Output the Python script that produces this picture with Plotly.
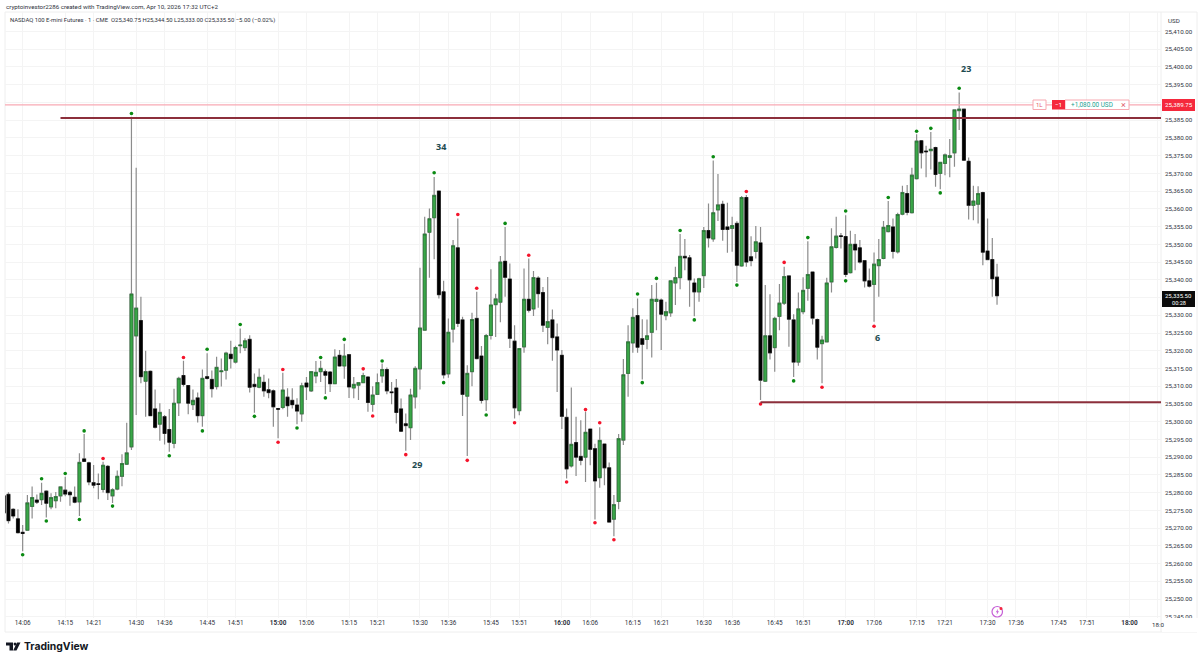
import pandas as pd
import plotly.graph_objects as go

DAY = "2026-04-10 "
first_bar = "14:02"
opens = [
25279.1,25279.5,25275.3,25272.6,25268.8,25269.4,25276.1,25277.9,25278.0,25280.4,
25276.0,25277.7,25279.1,25280.7,25280.1,25278.7,25277.4,25289.5,25288.4,25282.8,
25282.5,25280.9,25287.4,25279.1,25281.0,25284.6,25288.0,25292.9,25324.2,25328.5,
25311.4,25314.2,25303.6,25299.3,25301.4,25297.8,25293.9,25305.3,25313.0,25310.2,
25304.8,25306.7,25301.7,25312.7,25311.9,25309.9,25314.1,25314.5,25319.0,25316.8,
25321.4,25320.9,25323.2,25310.5,25309.7,25311.1,25309.0,25308.7,25303.7,25304.0,
25306.9,25306.0,25304.7,25302.2,25310.9,25308.7,25312.9,25314.1,25314.1,25314.0,
25310.7,25318.7,25315.7,25318.9,25309.5,25310.3,25311.0,25312.6,25304.9,25307.7,
25312.9,25314.7,25308.4,25309.5,25303.6,25299.4,25298.3,25307.0,25314.9,25325.8,
25353.4,25357.5,25365.0,25336.6,25313.5,25326.1,25349.0,25328.7,25307.2,25314.1,
25329.1,25318.5,25306.2,25324.3,25333.0,25333.7,25345.2,25340.2,25322.7,25303.1,
25321.1,25334.5,25331.8,25340.5,25336.4,25326.6,25328.7,25323.9,25318.7,25301.2,
25287.5,25294.1,25290.2,25290.0,25297.9,25292.4,25284.2,25293.7,25287.0,25272.5,
25277.5,25294.8,25313.6,25322.2,25329.9,25323.4,25323.2,25325.2,25333.9,25334.3,
25329.9,25330.7,25339.1,25340.6,25346.6,25346.2,25339.1,25336.6,25341.2,25353.9,
25351.5,25359.7,25361.3,25354.9,25354.5,25355.9,25343.9,25363.2,25346.5,25348.0,
25350.4,25311.4,25324.2,25320.9,25329.7,25333.4,25341.1,25328.7,25316.8,25331.0,
25337.6,25342.2,25328.8,25322.0,25322.5,25339.4,25349.1,25352.4,25352.2,25342.0,
25350.0,25349.0,25345.4,25339.7,25338.7,25344.0,25346.0,25353.6,25354.9,25347.9,
25358.5,25364.3,25358.9,25368.5,25379.2,25376.3,25376.4,25377.3,25370.0,25372.8,
25374.5,25375.8,25387.7,25388.1,25373.4,25361.0,25361.3,25364.6,25348.1,25345.7,
25340.75]
highs = [
25279.3,25280.1,25275.6,25275.3,25270.9,25279.3,25281.7,25279.5,25282.8,25280.7,
25279.8,25280.2,25281.7,25284.5,25280.5,25281.7,25291.1,25296.5,25288.7,25287.8,
25285.4,25288.7,25287.8,25281.2,25286.2,25290.8,25299.7,25386.0,25371.6,25335.2,
25320.0,25314.4,25309.1,25305.2,25301.9,25303.6,25309.3,25312.7,25317.2,25310.3,
25309.1,25308.2,25314.7,25319.3,25314.4,25318.3,25317.8,25319.7,25322.8,25321.4,
25326.3,25323.5,25324.4,25313.6,25315.0,25313.2,25312.2,25309.1,25303.7,25313.8,
25309.4,25309.4,25306.6,25311.0,25312.6,25314.3,25317.1,25317.2,25314.7,25314.3,
25320.4,25320.2,25322.0,25319.0,25312.6,25311.2,25313.8,25312.8,25310.0,25313.6,
25316.4,25315.3,25311.2,25312.0,25306.5,25302.3,25309.3,25315.6,25343.4,25357.8,
25360.1,25369.0,25365.1,25339.7,25329.1,25351.2,25357.3,25329.6,25315.9,25330.7,
25336.6,25321.3,25324.7,25343.0,25336.1,25346.7,25354.9,25344.6,25327.2,25320.6,
25343.2,25346.0,25342.5,25341.0,25338.0,25340.8,25331.6,25327.7,25320.2,25303.7,
25309.6,25301.4,25300.4,25302.8,25298.1,25293.8,25298.4,25293.8,25288.5,25279.3,
25296.5,25317.7,25327.2,25332.0,25334.7,25328.9,25328.8,25338.5,25339.2,25334.7,
25333.8,25339.9,25343.7,25352.9,25351.5,25347.0,25340.4,25340.6,25354.9,25361.5,
25373.6,25369.8,25362.3,25361.7,25357.8,25356.5,25363.6,25363.9,25352.3,25355.2,
25354.9,25338.5,25335.9,25329.6,25338.8,25343.7,25341.2,25330.3,25336.4,25340.7,
25350.9,25342.3,25329.1,25324.2,25340.6,25354.5,25357.8,25353.2,25358.2,25353.8,
25352.9,25351.2,25345.5,25343.2,25347.7,25351.5,25356.6,25362.2,25357.3,25358.9,
25366.5,25366.7,25371.6,25381.0,25379.4,25377.8,25381.7,25377.5,25373.3,25375.6,
25379.7,25388.0,25392.8,25388.3,25374.5,25366.5,25366.4,25364.8,25357.3,25351.8,
25344.5]
lows = [
25274.1,25271.3,25272.7,25268.5,25263.5,25269.3,25272.7,25276.8,25276.5,25273.0,
25275.3,25275.6,25277.4,25279.0,25276.3,25277.0,25273.4,25288.7,25282.1,25281.2,
25278.1,25280.0,25277.9,25277.1,25280.7,25281.8,25287.8,25292.0,25301.9,25310.8,
25301.4,25301.7,25298.1,25294.6,25293.6,25291.5,25292.5,25301.6,25309.9,25302.1,
25303.3,25299.8,25298.6,25311.9,25306.8,25309.1,25309.9,25311.9,25315.0,25316.4,
25319.3,25319.9,25308.2,25302.5,25309.4,25307.0,25306.6,25298.6,25295.3,25303.5,
25301.4,25303.7,25299.3,25300.0,25306.1,25308.4,25310.8,25311.2,25307.8,25308.4,
25310.6,25315.5,25312.1,25306.7,25306.6,25306.1,25310.8,25302.8,25302.8,25307.5,
25311.0,25307.7,25304.9,25299.5,25297.1,25291.8,25294.8,25303.7,25309.1,25325.8,
25340.6,25345.8,25334.7,25312.2,25312.4,25322.3,25326.7,25301.6,25290.3,25310.0,
25317.5,25305.1,25303.0,25323.2,25323.9,25328.0,25335.2,25320.8,25300.9,25301.8,
25319.4,25330.8,25329.8,25332.1,25325.3,25321.8,25317.2,25308.4,25297.9,25284.0,
25287.1,25284.7,25287.7,25283.0,25287.7,25272.4,25281.4,25282.1,25271.5,25267.7,
25275.3,25293.4,25307.0,25319.4,25319.4,25311.9,25320.4,25318.1,25325.8,25320.2,
25328.6,25329.6,25332.9,25337.3,25342.7,25332.4,25329.7,25333.8,25337.7,25349.1,
25350.7,25356.6,25351.0,25347.6,25347.9,25339.4,25343.7,25343.7,25343.8,25346.0,
25306.1,25311.2,25317.5,25314.1,25325.8,25332.9,25321.1,25312.6,25315.8,25330.3,
25334.1,25327.4,25317.5,25310.8,25322.3,25336.4,25348.8,25348.8,25340.8,25341.8,
25342.7,25344.6,25337.8,25337.8,25328.2,25335.2,25345.8,25353.3,25346.0,25347.4,
25358.2,25358.2,25358.7,25368.3,25371.4,25368.9,25371.1,25366.2,25365.5,25369.5,
25368.9,25371.9,25382.2,25373.6,25357.0,25356.8,25355.9,25344.1,25345.5,25335.2,
25333.0]
closes = [
25274.3,25272.1,25273.4,25268.7,25268.5,25277.1,25278.6,25277.3,25279.8,25277.0,
25278.6,25278.9,25281.6,25279.6,25279.4,25277.3,25288.5,25288.8,25283.0,25282.1,
25282.3,25287.7,25280.0,25280.8,25284.6,25288.2,25291.2,25336.0,25332.0,25312.7,
25314.1,25301.7,25298.4,25302.6,25296.7,25294.2,25305.2,25312.2,25310.5,25305.2,
25306.0,25301.7,25312.2,25312.2,25309.3,25315.3,25314.3,25319.3,25317.8,25320.9,
25321.6,25322.8,25309.7,25309.9,25312.5,25308.7,25308.2,25304.2,25303.5,25308.9,
25304.5,25304.8,25303.0,25310.1,25309.8,25314.1,25313.9,25315.0,25313.1,25310.7,
25318.2,25315.7,25318.5,25309.8,25310.5,25311.0,25313.0,25305.4,25307.5,25311.0,
25314.7,25308.7,25308.2,25302.6,25297.3,25298.9,25307.5,25315.0,25326.4,25352.9,
25357.2,25363.8,25335.8,25313.2,25325.2,25349.6,25327.7,25307.7,25313.6,25328.8,
25317.8,25306.0,25324.3,25332.9,25334.6,25345.0,25340.7,25323.5,25303.9,25320.6,
25334.5,25331.4,25340.6,25336.1,25327.2,25328.2,25323.7,25320.2,25301.5,25286.7,
25293.6,25290.0,25289.1,25297.0,25292.2,25283.3,25294.7,25287.0,25271.7,25276.6,
25295.2,25313.2,25322.5,25329.4,25321.0,25321.8,25324.2,25334.5,25334.5,25330.3,
25331.0,25339.7,25340.6,25346.6,25346.2,25340.0,25336.6,25340.3,25353.9,25351.8,
25358.9,25361.1,25354.2,25354.2,25355.3,25344.1,25363.2,25345.0,25345.4,25350.7,
25311.7,25324.2,25319.4,25329.1,25333.4,25340.9,25328.9,25316.8,25331.8,25337.0,
25341.5,25329.2,25321.0,25323.0,25339.1,25349.3,25352.3,25352.2,25341.5,25350.0,
25348.4,25345.0,25339.7,25338.2,25344.4,25345.7,25354.8,25355.3,25348.0,25358.4,
25364.6,25359.0,25369.5,25379.1,25375.8,25376.1,25376.8,25369.7,25373.1,25375.2,
25375.0,25387.9,25388.1,25373.7,25361.0,25362.2,25364.3,25347.8,25345.7,25340.3,
25335.5]

green_dot_times = ["14:06","14:10","14:11","14:15","14:18","14:19","14:25","14:29","14:37","14:44","14:45","14:52","14:55","15:04",
"15:09","15:10","15:14","15:22","15:33","15:35","15:44","15:48","16:16","16:17","16:20","16:25","16:28","16:32","16:37","16:49","16:52",
"17:00","17:00","17:09","17:15","17:18","17:20","17:24"]
green_dot_prices = [25262.5,25283.9,25272.0,25285.4,25272.4,25297.4,25276.2,25386.9,25290.4,25297.4,25320.4,25327.4,25301.5,25298.2,
25318.1,25306.7,25323.2,25317.1,25370.2,25311.0,25301.9,25355.9,25336.0,25311.0,25340.4,25353.9,25328.7,25374.7,25338.5,25311.5,25351.9,
25359.4,25339.7,25363.2,25381.9,25382.7,25364.5,25394.0]
red_dot_times = ["14:23","14:40","15:00","15:01","15:18","15:20","15:27","15:38","15:40","15:42","15:50","15:53",
"16:01","16:05","16:07","16:08","16:11","16:39","16:42","16:47","16:55","17:06"]
red_dot_prices = [25289.6,25318.1,25294.2,25314.7,25314.9,25301.6,25290.7,25358.4,25289.1,25337.6,25299.7,25346.9,
25283.0,25303.4,25271.5,25299.7,25266.7,25364.9,25305.0,25344.9,25309.7,25326.9]

count_labels = ["34","29","6","23"]
count_times = ["15:34:25","15:29:25","17:06:50","17:25:25"]
count_prices = [25377.7,25288.0,25323.6,25399.7]

x_tick_times = ["14:06","14:15","14:21","14:30","14:36","14:45","14:51","15:00","15:06","15:15","15:21","15:30","15:36","15:45","15:51",
"16:00","16:06","16:15","16:21","16:30","16:36","16:45","16:51","17:00","17:06","17:15","17:21","17:30","17:36","17:45","17:51","18:00","18:06"]
y_ticks = list(range(25245, 25415, 5))
y_ticks_under_tags = [25335, 25390]

position_price = 25389.75
position_line = 25389.3
last_price = 25335.5
upper_level = 25385.6
upper_level_start = "14:14"
lower_level = 25305.5
lower_level_start = "16:42"

def t(s):
    return DAY + s

times = pd.date_range(t(first_bar), periods=len(opens), freq="1min")

W, H = 1200, 661
L, R, T, B = 5, 1161, 12, 618
def px(x): return (x - L) / (R - L)
def py(y): return (B - y) / (B - T)

FONT = "Roboto"
INK = "#2f333d"

fig = go.Figure()

# wicks, then bodies on top with a darker outline
fig.add_trace(go.Candlestick(
    x=times, open=opens, high=highs, low=lows, close=closes,
    increasing=dict(line=dict(color="#8c8c8c", width=1.2), fillcolor="#8c8c8c"),
    decreasing=dict(line=dict(color="#8c8c8c", width=1.2), fillcolor="#8c8c8c"),
    whiskerwidth=0, showlegend=False, hoverinfo="skip"))
fig.add_trace(go.Candlestick(
    x=times, open=opens, close=closes,
    high=[max(a, b) for a, b in zip(opens, closes)],
    low=[min(a, b) for a, b in zip(opens, closes)],
    increasing=dict(line=dict(color="#1d6a2a", width=0.6), fillcolor="#3aa648"),
    decreasing=dict(line=dict(color="#000000", width=0.6), fillcolor="#000000"),
    whiskerwidth=0, showlegend=False))

fig.add_trace(go.Scatter(x=[t(s) for s in green_dot_times], y=green_dot_prices, mode="markers",
                         marker=dict(color="#0a8a12", size=3.6), showlegend=False))
fig.add_trace(go.Scatter(x=[t(s) for s in red_dot_times], y=red_dot_prices, mode="markers",
                         marker=dict(color="#f5142b", size=3.6), showlegend=False))

x_end = "2026-04-10 18:06:40"
x_start = "2026-04-10 14:02:16"

shapes = [
    dict(type="line", xref="x", yref="y", x0=x_start, x1=x_end, y0=position_line, y1=position_line,
         line=dict(color="#f8aab4", width=1.3)),
    dict(type="line", xref="x", yref="y", x0=t(upper_level_start), x1=x_end, y0=upper_level, y1=upper_level,
         line=dict(color="#8c2f3b", width=2)),
    dict(type="line", xref="x", yref="y", x0=t(lower_level_start), x1=x_end, y0=lower_level, y1=lower_level,
         line=dict(color="#8c2f3b", width=2)),
]

def rect(x0, y0, x1, y1, fill, line=None, layer="above", lw=1):
    shapes.append(dict(type="rect", xref="paper", yref="paper", x0=px(x0), x1=px(x1), y0=py(y1), y1=py(y0),
                       fillcolor=fill, line=dict(color=line or fill, width=lw if line else 0), layer=layer))

# clip the lowest price label at the pane edge, then pane frame
rect(1162, 618, 1200, 632, "#ffffff")
for frame in [(5, 12, 1197, 632)]:
    shapes.append(dict(type="rect", xref="paper", yref="paper", x0=px(frame[0]), x1=px(frame[2]),
                       y0=py(frame[3]), y1=py(frame[1]), line=dict(color="#eeeeee", width=1), layer="below"))
shapes.append(dict(type="line", xref="paper", yref="paper", x0=1, x1=1, y0=py(632), y1=py(12),
                   line=dict(color="#eeeeee", width=1), layer="below"))

# order pill
rect(1033, 100, 1046, 109.5, "#ffffff", "#f7a8b0")
rect(1065, 100, 1129, 109.5, "#ffffff", "#f7a8b0")
rect(1052, 100, 1065, 109.5, "#f5283c")
# position and last price tags
rect(1162, 99, 1195, 111, "#f5283c")
rect(1162, 291, 1195, 307, "#0b0b0b")

# replay icon
shapes.append(dict(type="circle", xref="paper", yref="paper", x0=px(992), x1=px(1002.5), y0=py(617), y1=py(606.5),
                   line=dict(color="#c65fd6", width=1.2), fillcolor="#ffffff"))
shapes.append(dict(type="path", xref="paper", yref="paper",
                   path=f"M {px(998)} {py(608.8)} L {px(995.8)} {py(612.3)} L {px(997.2)} {py(612.3)} L {px(996.6)} {py(615)} L {px(999)} {py(611.2)} L {px(997.6)} {py(611.2)} Z",
                   fillcolor="#c65fd6", line=dict(width=0)))
shapes.append(dict(type="circle", xref="paper", yref="paper", x0=px(999.5), x1=px(1002.5), y0=py(610), y1=py(607),
                   fillcolor="#f5283c", line=dict(width=0)))

# TradingView mark
def poly(pts, fill="#131722"):
    d = " ".join(("M" if i == 0 else "L") + f" {px(a)} {py(b)}" for i, (a, b) in enumerate(pts)) + " Z"
    shapes.append(dict(type="path", xref="paper", yref="paper", path=d, fillcolor=fill, line=dict(width=0)))
poly([(6, 642.5), (13, 642.5), (13, 650.5), (9.5, 650.5), (9.5, 645.5), (6, 645.5)])
poly([(17, 642.5), (20.5, 642.5), (16.5, 650.5), (13.2, 650.5)])
shapes.append(dict(type="circle", xref="paper", yref="paper", x0=px(13.6), x1=px(16.4), y0=py(645.6), y1=py(642.6),
                   fillcolor="#131722", line=dict(width=0)))

def note(text, x, y, size=6.2, color=INK, anchor="left", family=FONT):
    return dict(text=text, xref="paper", yref="paper", x=px(x), y=py(y), xanchor=anchor, yanchor="middle",
                showarrow=False, align=anchor, font=dict(family=family, size=size, color=color))

annotations = [
    note("cryptoinvestor2286 created with TradingView.com, Apr 10, 2026 17:32 UTC+2", 4, 7),
    note("NASDAQ 100 E-mini Futures · 1 · CME  O25,340.75 H25,344.50 L25,333.00 C25,335.50 −5.00 (−0.02%)", 7.5, 20.5, size=5.9),
    note("USD", 1166, 21),
    note("18:0", 1149.5, 625, size=6.2),
    note("1L", 1039.5, 104.8, size=6, color="#e0606e", anchor="center"),
    note("−1", 1058.5, 104.8, size=6.2, color="#ffffff", anchor="center"),
    note("+1,080.00 USD", 1091.5, 104.8, size=6.4, color="#22a08f", anchor="center"),
    note("×", 1123.5, 104.8, size=9, color="#e0606e", anchor="center"),
    note(f"{position_price:,.2f}", 1178.5, 105, size=6.2, color="#ffffff", anchor="center"),
    note(f"{last_price:,.2f}", 1178.5, 295, size=6, color="#ffffff", anchor="center"),
    note("00:28", 1178.5, 303.2, size=5.6, color="#ffffff", anchor="center"),
    note("<b>TradingView</b>", 22, 646.5, size=10.4, color="#131722", family="Inter"),
]
for lab, tm, pr in zip(count_labels, count_times, count_prices):
    annotations.append(dict(text=f"<b>{lab}</b>", xref="x", yref="y", x=t(tm), y=pr, showarrow=False,
                            font=dict(family="Noto Sans", size=9, color="#1d4a4f")))

def tick_label(s):
    if s == "18:06":
        return ""
    return f"<b>{s}</b>" if s.endswith(":00") else s

fig.update_layout(
    width=W, height=H, autosize=False,
    margin=dict(l=L, r=W - R, t=T, b=H - B, pad=0),
    paper_bgcolor="#ffffff", plot_bgcolor="#ffffff", showlegend=False,
    shapes=shapes, annotations=annotations, hovermode=False, boxgap=0.12,
    font=dict(family=FONT, size=6.2, color=INK),
)
fig.update_xaxes(
    range=[x_start, x_end], type="date", rangeslider_visible=False,
    tickmode="array", tickvals=[t(s) for s in x_tick_times], ticktext=[tick_label(s) for s in x_tick_times],
    showgrid=True, gridcolor="#f4f4f4", gridwidth=1, zeroline=False, showline=False, ticks="", ticklen=0,
    tickangle=0, tickfont=dict(family=FONT, size=6.4, color=INK),
)
fig.update_yaxes(
    range=[25244.65, 25415.5], side="right",
    tickmode="array", tickvals=y_ticks,
    ticktext=["" if v in y_ticks_under_tags else f"{v:,.2f}" for v in y_ticks],
    ticklabelstandoff=3,
    showgrid=True, gridcolor="#f4f4f4", gridwidth=1, zeroline=False, showline=False, ticks="",
    tickfont=dict(family=FONT, size=6.2, color=INK),
)

fig.write_html("out.html", config=dict(displayModeBar=False),
               post_script="document.body.style.margin='0';document.body.style.overflow='hidden';")
